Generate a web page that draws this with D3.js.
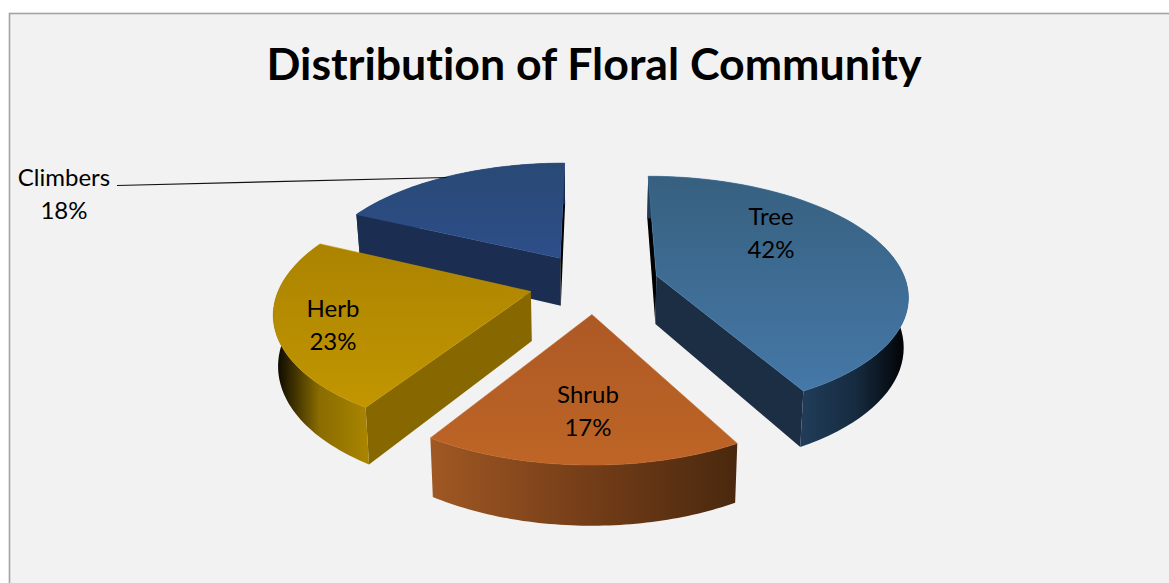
<!DOCTYPE html>
<html lang="en">
<head>
    <meta charset="utf-8">
    <title>Distribution of Floral Community</title>
    <style>
        html, body { margin: 0; padding: 0; background: #fff; overflow: hidden; }
        text { font-family: Lato, 'Open Sans', sans-serif; fill: #000; font-variant-ligatures: none; }
    </style>
    <script src="https://d3js.org/d3.v7.min.js" charset="utf-8"></script>
</head>
<body>
    <svg id="chart" width="1169" height="583"></svg>
    <script type="text/javascript">
    var categories = ["Tree", "Shrub", "Herb", "Climbers"];
    var values = [42, 17, 23, 18];
    var chartTitle = "Distribution of Floral Community";

    // top face top/bottom, radial wall, outer wall left/mid/right
    var topColors = [["#37607f", "#4578a8"], ["#ad5925", "#be6526"], ["#ab8300", "#c29600"], ["#294975", "#2d4e89"]];
    var wallColors = ["#1b2e43", "#8a4a1c", "#876800", "#1b2d50"];
    var outerColors = [["#203c59", "#162b40", "#000000"], ["#a05823", "#753e18", "#4a280e"], ["#000000", "#8a6c00", "#a88400"], ["#1b2d50", "#1b2d50", "#1b2d50"]];
    var labelPos = [[771, 217], [588, 395], [333, 309], [64, 178]];

    // projection of the tilted pie
    var cx = 594, cy = 283, R = 250, explode = 65, depth = 49;
    var D = 1635, L = 763, pinch = 0.015;
    var slivers = 1500; // walls seen almost edge-on render black

    function project(u, v, z) {
      var w = D / (D - v);
      return [cx + u * w * (1 - pinch * z / depth), cy + L * (w - 1) + z * w];
    }

    var svg = d3.select("#chart");
    var defs = svg.append("defs");

    svg.append("rect").attr("x", 9.5).attr("y", 13.5).attr("width", 1175).attr("height", 590)
      .attr("fill", "#f2f2f2").attr("stroke", "#a3a3a3").attr("stroke-width", 1.6);

    svg.append("text").attr("x", 594).attr("y", 80).attr("text-anchor", "middle")
      .attr("font-size", 44.7).attr("font-weight", 700).text(chartTitle);

    var arcs = d3.pie().sort(null)(values);
    var line = d3.line();

    // back to front
    [3, 0, 2, 1].forEach(function (i) {
      var a = arcs[i];
      var mid = (a.startAngle + a.endAngle) / 2;
      var ou = explode * Math.sin(mid), ov = -explode * Math.cos(mid);
      var angles = d3.range(0, 61).map(function (s) {
        return a.startAngle + (a.endAngle - a.startAngle) * s / 60;
      });
      var topArc = angles.map(function (t) { return project(ou + R * Math.sin(t), ov - R * Math.cos(t), 0); });
      var botArc = angles.map(function (t) { return project(ou + R * Math.sin(t), ov - R * Math.cos(t), depth); });
      var apexTop = project(ou, ov, 0), apexBot = project(ou, ov, depth);

      // gradients run over the part of the rim the viewer can see
      var front = topArc.filter(function (p, s) { return Math.cos(angles[s]) < 0.18; });
      var x0 = d3.min(front.length ? front : topArc, function (p) { return p[0]; });
      var x1 = d3.max(front.length ? front : topArc, function (p) { return p[0]; });
      var rimGrad = defs.append("linearGradient").attr("id", "outer" + i)
        .attr("gradientUnits", "userSpaceOnUse").attr("x1", x0).attr("y1", 0).attr("x2", x1).attr("y2", 0);
      outerColors[i].forEach(function (c, k) {
        rimGrad.append("stop").attr("offset", k / 2).attr("stop-color", c);
      });
      var topGrad = defs.append("linearGradient").attr("id", "top" + i)
        .attr("x1", 0).attr("y1", 0).attr("x2", 0).attr("y2", 1);
      topColors[i].forEach(function (c, k) {
        topGrad.append("stop").attr("offset", k).attr("stop-color", c);
      });

      // radial walls, only the ones facing the viewer
      var first = [apexTop, topArc[0], botArc[0], apexBot];
      var last = [apexTop, apexBot, botArc[60], topArc[60]];
      [first, last].forEach(function (q) {
        var area = d3.polygonArea(q);
        if (area >= 0) {
          svg.append("path").attr("d", line(q) + "Z")
            .attr("fill", area < slivers ? "#000" : wallColors[i]);
        }
      });

      var rim = topArc.concat(botArc.slice().reverse());
      svg.append("path").attr("d", line(rim) + "Z").attr("fill", "url(#outer" + i + ")");

      svg.append("path")
        .attr("d", line([apexTop].concat(topArc)) + "Z")
        .attr("fill", "url(#top" + i + ")")
        .attr("stroke", topColors[i][1]).attr("stroke-width", 0.6);
    });

    // leader line for the outside label
    svg.append("line").attr("x1", 117).attr("y1", 185.5).attr("x2", 447).attr("y2", 177.5)
      .attr("stroke", "#111").attr("stroke-width", 1.2);

    categories.forEach(function (c, i) {
      var t = svg.append("text").attr("text-anchor", "middle").attr("font-size", 24);
      t.append("tspan").attr("x", labelPos[i][0]).attr("y", labelPos[i][1] + 8).text(c);
      t.append("tspan").attr("x", labelPos[i][0]).attr("y", labelPos[i][1] + 41).text(values[i] + "%");
    });
    </script>
</body>
</html>
